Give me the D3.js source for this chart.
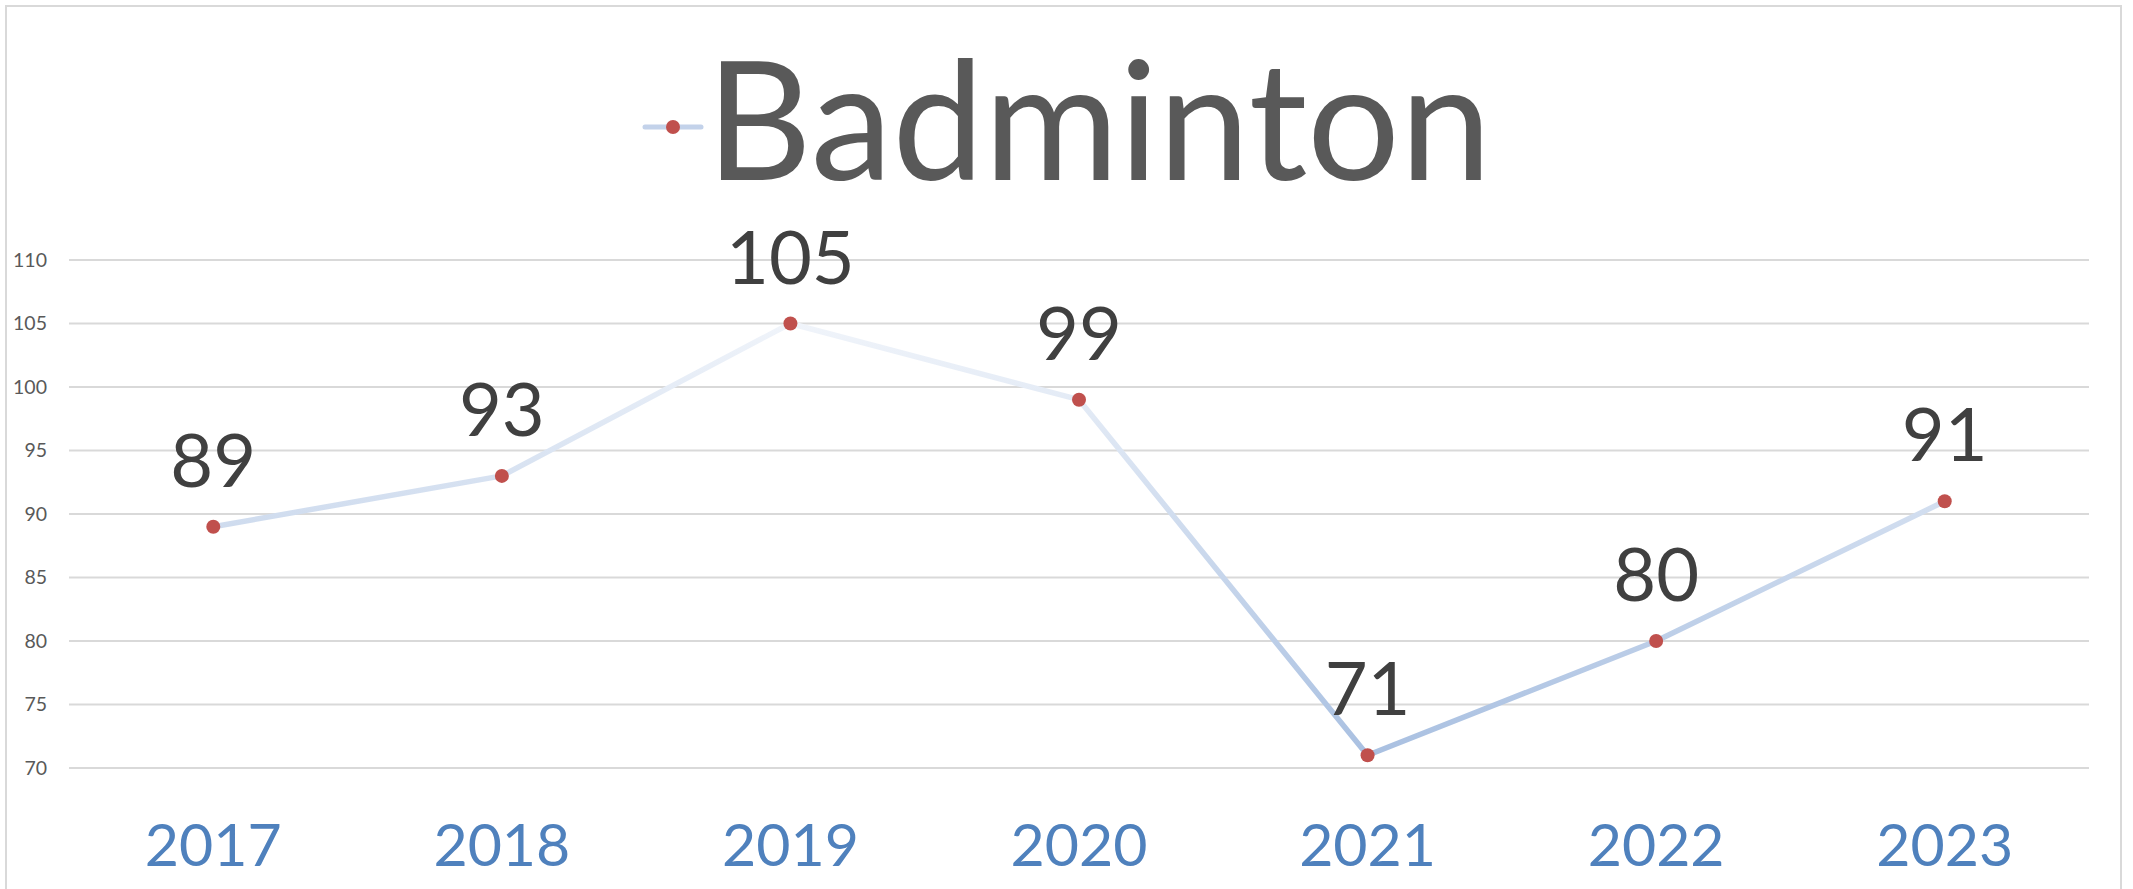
<!DOCTYPE html>
<html>
<head>
<meta charset="utf-8">
<script src="https://cdn.jsdelivr.net/npm/d3@7"></script>
<style>
  html, body { margin: 0; padding: 0; background: #fff; }
  svg { display: block; }
</style>
</head>
<body>
<div id="container"></div>
<script>
const years = ["2017", "2018", "2019", "2020", "2021", "2022", "2023"];
const badminton = [89, 93, 105, 99, 71, 80, 91];
const yTicks = [70, 75, 80, 85, 90, 95, 100, 105, 110];
const seriesName = "Badminton";

const width = 2133;
const height = 889;

const svg = d3
  .select("#container")
  .append("svg")
  .attr("width", width)
  .attr("height", height);

// outer chart frame (bottom edge is cut off in the picture)
svg
  .append("rect")
  .attr("x", 6)
  .attr("y", 6)
  .attr("width", 2115)
  .attr("height", 920)
  .attr("fill", "#fff")
  .attr("stroke", "#d9d9d9")
  .attr("stroke-width", 2);

const x = d3.scaleBand().domain(years).range([69, 2089]);
const y = d3.scaleLinear().domain([70, 110]).range([768, 260]);

// gridlines
svg
  .append("g")
  .selectAll("line")
  .data(yTicks)
  .enter()
  .append("line")
  .attr("x1", 69)
  .attr("x2", 2089)
  .attr("y1", (d) => y(d))
  .attr("y2", (d) => y(d))
  .attr("stroke", "#d9d9d9")
  .attr("stroke-width", 2);

// y axis labels
const yAxis = svg
  .append("g")
  .attr("transform", "translate(51,0)")
  .call(d3.axisLeft(y).tickValues(yTicks).tickSize(0).tickPadding(4));
yAxis.select(".domain").remove();
yAxis
  .selectAll("text")
  .attr("font-family", "Lato, 'Open Sans', sans-serif")
  .attr("font-size", "19.5px")
  .attr("fill", "#595959");

// x axis labels
const xAxis = svg
  .append("g")
  .attr("transform", "translate(0,824)")
  .call(d3.axisBottom(x).tickSize(0).tickPadding(0));
xAxis.select(".domain").remove();
xAxis
  .selectAll("text")
  .attr("dy", "0.71em")
  .attr("font-family", "Lato, 'Open Sans', sans-serif")
  .attr("font-size", "59px")
  .attr("fill", "#4f81bd");

// line with vertical gradient
const defs = svg.append("defs");
const grad = defs
  .append("linearGradient")
  .attr("id", "lineGrad")
  .attr("gradientUnits", "userSpaceOnUse")
  .attr("x1", 0)
  .attr("x2", 0)
  .attr("y1", y(105))
  .attr("y2", y(71));
grad.append("stop").attr("offset", "0%").attr("stop-color", "#f0f4fa");
grad.append("stop").attr("offset", "100%").attr("stop-color", "#a9c0e1");

const line = d3
  .line()
  .x((d, i) => x(years[i]) + x.bandwidth() / 2)
  .y((d) => y(d));

svg
  .append("path")
  .datum(badminton)
  .attr("d", line)
  .attr("fill", "none")
  .attr("stroke", "url(#lineGrad)")
  .attr("stroke-width", 5.5)
  .attr("stroke-linejoin", "round");

svg
  .append("g")
  .selectAll("circle")
  .data(badminton)
  .enter()
  .append("circle")
  .attr("cx", (d, i) => x(years[i]) + x.bandwidth() / 2)
  .attr("cy", (d) => y(d))
  .attr("r", 7)
  .attr("fill", "#c0504d");

// data labels
svg
  .append("g")
  .selectAll("text")
  .data(badminton)
  .enter()
  .append("text")
  .text((d) => d)
  .attr("x", (d, i) => x(years[i]) + x.bandwidth() / 2)
  .attr("y", (d) => y(d) - 40)
  .attr("text-anchor", "middle")
  .attr("font-family", "Lato, 'Open Sans', sans-serif")
  .attr("font-size", "74px")
  .attr("fill", "#404040");

// legend / title
const legend = svg.append("g");
legend
  .append("line")
  .attr("x1", 645)
  .attr("x2", 701)
  .attr("y1", 127)
  .attr("y2", 127)
  .attr("stroke", "#c3d2ea")
  .attr("stroke-width", 5)
  .attr("stroke-linecap", "round");
legend
  .append("circle")
  .attr("cx", 673)
  .attr("cy", 127)
  .attr("r", 7)
  .attr("fill", "#c0504d");
legend
  .append("text")
  .text(seriesName)
  .attr("x", 706)
  .attr("y", 180)
  .attr("font-family", "Lato, 'Open Sans', sans-serif")
  .attr("font-size", "164px")
  .attr("fill", "#595959");
</script>
</body>
</html>
